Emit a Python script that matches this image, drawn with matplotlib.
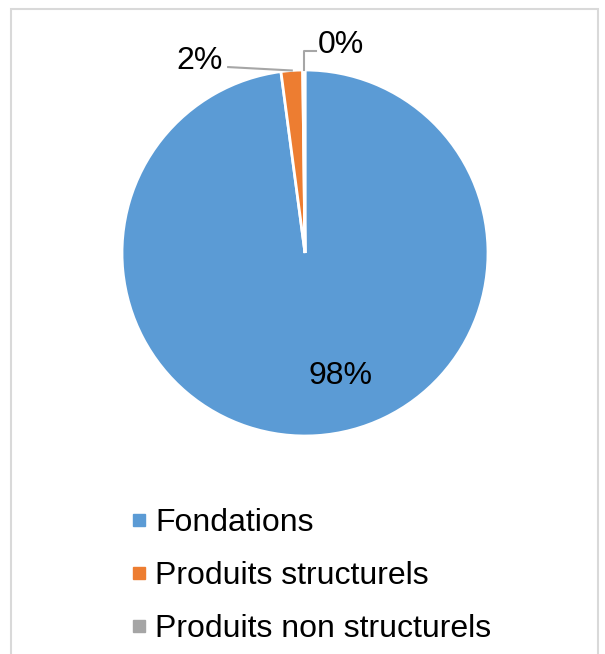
import numpy as np
import matplotlib.pyplot as plt
from matplotlib.lines import Line2D
from matplotlib.patches import Rectangle

# ==========================================
# Data
# ==========================================
categories = ['Fondations', 'Produits structurels', 'Produits non structurels']
shares = [97.9, 1.9, 0.2]
labels = ['98%', '2%', '0%']
colors = ['#5B9BD5', '#ED7D31', '#A5A5A5']

plt.rcParams['font.family'] = ['Liberation Sans', 'DejaVu Sans']

W, H = 605, 654
fig = plt.figure(figsize=(W / 100, H / 100), dpi=100)

# outer frame
fig.patches.append(Rectangle((11 / W, -0.05), (598 - 11) / W, 1.05 - 9 / H,
                             transform=fig.transFigure, fill=False,
                             edgecolor='#D9D9D9', lw=1.5))

# pie axes: centre (305, 253) px, radius 183 px
cx, cy, r = 305, 253, 183
ax = fig.add_axes([(cx - r) / W, (H - cy - r) / H, 2 * r / W, 2 * r / H])
wedges, _ = ax.pie(shares, colors=colors, startangle=90, counterclock=False,
                   radius=1.0, wedgeprops=dict(edgecolor='white', linewidth=2))
ax.set_xlim(-1, 1)
ax.set_ylim(-1, 1)
ax.set_aspect('equal')
ax.axis('off')

fs = 23
lc = '#A6A6A6'

# 98% inside
ax.text(0.195, -0.672, labels[0], ha='center', va='center', fontsize=fs)

# 2% outside with leader line
w = wedges[1]
a = np.deg2rad((w.theta1 + w.theta2) / 2)
x0, y0 = np.cos(a), np.sin(a)
ax.plot([x0, -0.42], [y0, 1.016], color=lc, lw=1.5, clip_on=False)
ax.text(-0.574, 1.05, labels[1], ha='center', va='center', fontsize=fs)

# 0% outside with elbow leader
w = wedges[2]
a = np.deg2rad((w.theta1 + w.theta2) / 2)
x0, y0 = np.cos(a), np.sin(a)
ax.plot([x0, x0, 0.06], [y0, 1.104, 1.104], color=lc, lw=1.5, clip_on=False)
ax.text(0.195, 1.137, labels[2], ha='center', va='center', fontsize=fs)

# legend
handles = [Line2D([], [], ls='none', marker='s', markersize=8, color=c) for c in colors]
fig.legend(handles, categories, loc='upper left', bbox_to_anchor=(131 / W, 1 - 508 / H),
           frameon=False, fontsize=fs, handlelength=0.5, handletextpad=0.26,
           labelspacing=0.72, borderaxespad=0, borderpad=0)

fig.savefig('out.png', dpi=100)
